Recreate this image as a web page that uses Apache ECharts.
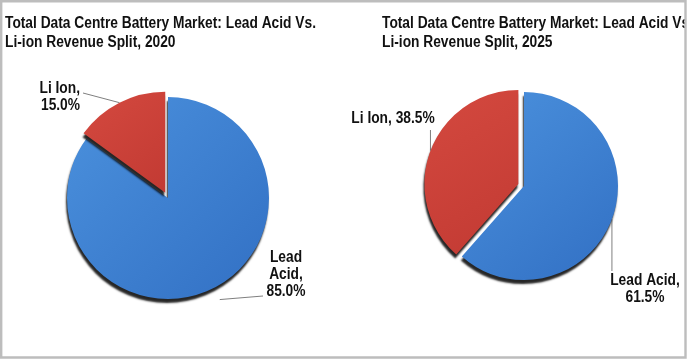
<!DOCTYPE html>
<html><head><meta charset="utf-8">
<script src="https://cdn.jsdelivr.net/npm/echarts@6/dist/echarts.min.js"></script>
<style>html,body{margin:0;padding:0;background:#fff}#c{width:688px;height:361px}</style>
</head><body><div id="c"></div>
<script>
const categories = ['Lead Acid', 'Li Ion'];
const values2020 = [85.0, 15.0];
const values2025 = [61.5, 38.5];
const years = ['2020', '2025'];
const titleLine1 = 'Total Data Centre Battery Market: Lead Acid Vs.';
const titleLine2 = 'Li-ion Revenue Split, ';

const FONT = '"Liberation Sans", Arial, sans-serif';
const SX = 0.86; // horizontal text compression seen in the reference
const blueFill = new echarts.graphic.LinearGradient(0, 0, 1, 1, [
  {offset: 0, color: '#4b91dd'}, {offset: 1, color: '#3270c4'}]);
const redFill = new echarts.graphic.LinearGradient(0, 0, 1, 1, [
  {offset: 0, color: '#d4493f'}, {offset: 1, color: '#c23a33'}]);
const fills = [blueFill, redFill];

const pies = [
  {vals: values2020, center: [168, 198], radius: 101},
  {vals: values2025, center: [524, 186], radius: 94}
];
const EXPLODE = 6;

// label layout (positions only)
const labelCfg = [
  [ {split: '\n', x: 286, y: 249, align: 'center', ext: 13, end: [263, 296]},
    {split: ' ', x: 80, y: 80, align: 'right', ext: 0, end: [83, 93]} ],
  [ {split: ' ', x: 645, y: 272, align: 'center', ext: 0, vert: 271},
    {split: ' ', x: 393, y: 110, align: 'center', ext: 0, vert: 130, oneLine: true} ]
];

function labelString(pi, di) {
  const c = labelCfg[pi][di];
  const name = categories[di].replace(' ', c.split === '\n' ? '\n' : ' ');
  const v = pies[pi].vals[di].toFixed(1) + '%';
  return name + ',' + (c.oneLine ? ' ' : '\n') + v;
}

function mainSeries(pi) {
  const p = pies[pi];
  return {
    type: 'pie', center: p.center, radius: p.radius,
    startAngle: 90, clockwise: true,
    selectedMode: 'multiple', selectedOffset: EXPLODE,
    animation: false, silent: true, emphasis: {disabled: true},
    itemStyle: {
      borderWidth: 0,
      shadowColor: 'rgba(0,0,0,0.85)', shadowBlur: 2, shadowOffsetX: -1, shadowOffsetY: 4
    },
    label: {show: false}, labelLine: {show: false},
    data: categories.map((c, i) => ({name: c, value: p.vals[i], selected: i === 1,
      itemStyle: {color: fills[i]}}))
  };
}

// transparent twin used only to place the leader lines
function guideSeries(pi) {
  const p = pies[pi];
  return {
    type: 'pie', center: p.center, radius: p.radius,
    startAngle: 90, clockwise: true,
    animation: false, silent: true, emphasis: {disabled: true},
    itemStyle: {color: 'rgba(0,0,0,0)'},
    label: {show: true, position: 'outside', formatter: ' ', color: 'rgba(0,0,0,0)', overflow: 'none'},
    labelLine: {show: true, length: 8, length2: 8, lineStyle: {color: '#7f7f7f', width: 1}},
    labelLayout: function (params) {
      const c = labelCfg[pi][params.dataIndex];
      const pts = params.labelLinePoints;
      let s = pts[0];
      const dx = s[0] - p.center[0], dy = s[1] - p.center[1];
      const len = Math.sqrt(dx * dx + dy * dy) || 1;
      const push = (params.dataIndex === 1 ? EXPLODE : 0) + c.ext;
      s = [s[0] + dx / len * push, s[1] + dy / len * push];
      const e = c.vert !== undefined ? [s[0], c.vert] : c.end;
      return {x: e[0], y: e[1], labelLinePoints: [s, e, e]};
    },
    data: categories.map((c, i) => ({name: c, value: p.vals[i]}))
  };
}

const graphics = [];
// titles
[5, 382].forEach((x, pi) => {
  graphics.push({
    type: 'text', x: x, y: 14, scaleX: SX, silent: true, z: 10,
    style: {text: titleLine1 + '\n' + titleLine2 + years[pi], fontFamily: FONT, fontWeight: 'bold',
            fontSize: 16, lineHeight: 19, fill: '#111', align: 'left', verticalAlign: 'top'}
  });
});
// data labels
labelCfg.forEach((row, pi) => row.forEach((c, di) => {
  graphics.push({
    type: 'text', x: c.x, y: c.y, scaleX: SX, silent: true, z: 10,
    style: {text: labelString(pi, di), fontFamily: FONT, fontWeight: 'bold', fontSize: 16,
            lineHeight: 17, fill: '#111', align: c.align, verticalAlign: 'top'}
  });
}));
// frame
graphics.push({type: 'rect', silent: true, z: 99, shape: {x: 686, y: 0, width: 2, height: 361},
  style: {fill: '#ffffff'}});
graphics.push({type: 'rect', silent: true, z: 100, shape: {x: 1.2, y: 1.2, width: 684.3, height: 356.3},
  style: {fill: 'none', stroke: '#bdbdbd', lineWidth: 2.4}});

const chart = echarts.init(document.getElementById('c'), null, {renderer: 'canvas'});
chart.setOption({
  backgroundColor: '#ffffff',
  graphic: graphics,
  series: [mainSeries(0), mainSeries(1), guideSeries(0), guideSeries(1)]
});
</script>
</body></html>
